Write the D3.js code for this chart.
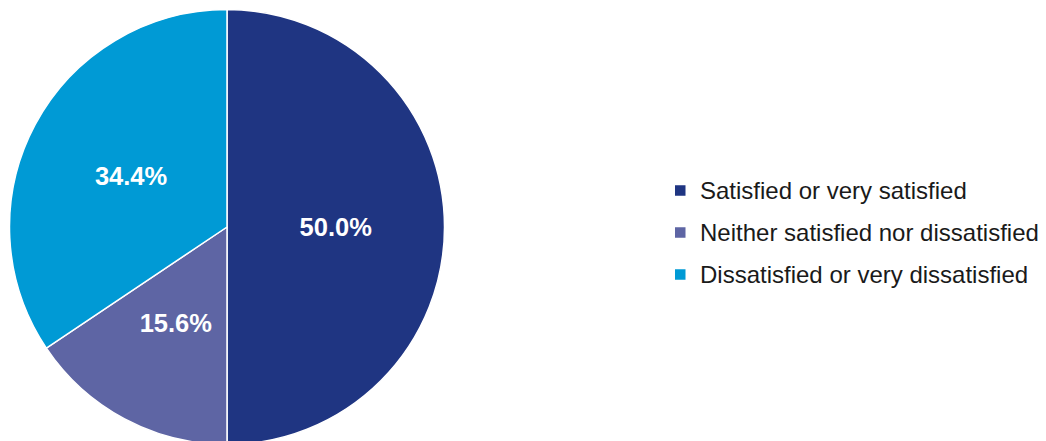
<!DOCTYPE html>
<html>
<head>
<meta charset="utf-8">
<script src="https://cdn.jsdelivr.net/npm/d3@7"></script>
<style>
  html, body { margin: 0; padding: 0; background: #ffffff; }
  svg { display: block; }
</style>
</head>
<body>
<svg id="chart" width="1046" height="441"></svg>
<script>
// Satisfaction breakdown
const categories = [
  "Satisfied or very satisfied",
  "Neither satisfied nor dissatisfied",
  "Dissatisfied or very dissatisfied"
];
const values = [50.0, 15.6, 34.4];
const colors = ["#1f3582", "#5e65a4", "#009ad5"];

const svg = d3.select("#chart");
const cx = 227, cy = 227, radius = 217.5;

const pie = d3.pie().sort(null).value(d => d.value);
const data = pie(categories.map((c, i) => ({ name: c, value: values[i], color: colors[i] })));

const arc = d3.arc().innerRadius(0).outerRadius(radius);

const g = svg.append("g").attr("transform", `translate(${cx},${cy})`);

g.selectAll("path.slice")
  .data(data)
  .join("path")
  .attr("class", "slice")
  .attr("d", arc)
  .attr("fill", d => d.data.color)
  .attr("stroke", "#ffffff")
  .attr("stroke-width", 1.5)
  .attr("stroke-linejoin", "round");

// Percentage labels placed inside each slice
const labelArc = d3.arc().innerRadius(radius * 0.5).outerRadius(radius * 0.5);
g.selectAll("text.pct")
  .data(data)
  .join("text")
  .attr("class", "pct")
  .attr("transform", d => {
    const [x, y] = labelArc.centroid(d);
    return `translate(${x},${y})`;
  })
  .attr("text-anchor", "middle")
  .attr("dy", "0.36em")
  .attr("fill", "#ffffff")
  .attr("font-family", "'Liberation Sans', Arial, sans-serif")
  .attr("font-weight", "bold")
  .attr("font-size", 25.5)
  .text(d => d.data.value.toFixed(1) + "%");

// Legend
const legend = svg.append("g").attr("transform", "translate(675,190.5)");
const rowH = 42;
const items = legend.selectAll("g.item")
  .data(data)
  .join("g")
  .attr("class", "item")
  .attr("transform", (d, i) => `translate(0,${i * rowH})`);

items.append("rect")
  .attr("x", 0)
  .attr("y", -5.25)
  .attr("width", 10.5)
  .attr("height", 10.5)
  .attr("fill", d => d.data.color);

items.append("text")
  .attr("x", 25)
  .attr("y", 8)
  .attr("fill", "#1a1a1a")
  .attr("font-family", "'Liberation Sans', Arial, sans-serif")
  .attr("font-size", 24)
  .text(d => d.data.name);
</script>
</body>
</html>
